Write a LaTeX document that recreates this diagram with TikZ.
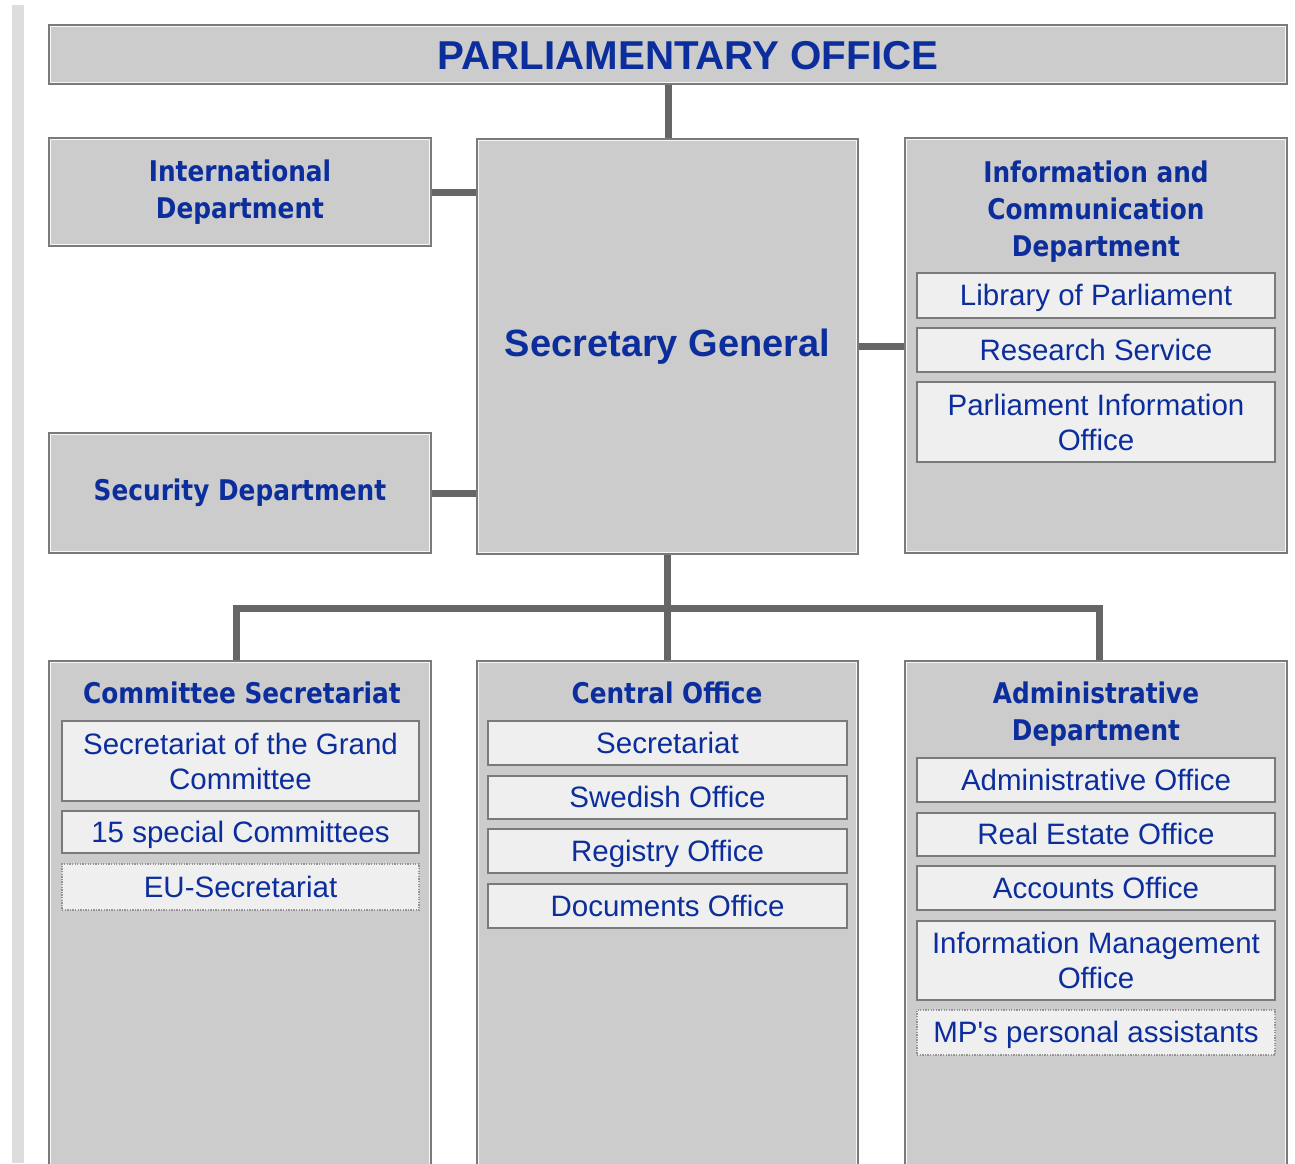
\documentclass[tikz,border=0pt]{standalone}
\usepackage{fontspec}
\setmainfont{Liberation Sans}
\newfontfamily\itemfont{Liberation Sans}
\newfontfamily\hdfont{DejaVu Sans Bold}[FakeStretch=0.87]
\definecolor{boxgray}{HTML}{CCCCCC}
\definecolor{itemfill}{HTML}{EFEFEF}
\definecolor{bordergray}{HTML}{7A7A7A}
\definecolor{linegray}{HTML}{666666}
\definecolor{txtblue}{HTML}{0C2E9C}
\definecolor{barGray}{HTML}{DDDDDD}
\tikzset{
  mainbox/.style={draw=bordergray, line width=1.6pt, fill=boxgray, inner sep=0pt, align=center, text=txtblue},
  itembox/.style={draw=bordergray, line width=1.8pt, fill=itemfill, inner sep=0pt, align=center, text=txtblue,
    font=\itemfont\fontsize{29.5}{35}\selectfont},
  oneline/.style={text height=24pt, text depth=4pt},
  dotbox/.style={draw=bordergray!80, line width=1.3pt, dash pattern=on 1.3pt off 1.3pt, fill=itemfill, inner sep=0pt,
    align=center, text=txtblue, font=\itemfont\fontsize{29.5}{35}\selectfont, text height=24pt, text depth=4pt},
  headtxt/.style={text=txtblue, align=center, inner sep=0pt, font=\hdfont\fontsize{28.5}{37}\selectfont},
  conn/.style={draw=linegray, line width=7pt},
  hl/.style={draw=white!85!boxgray, line width=1.2pt}
}
\begin{document}
\begin{tikzpicture}[x=1pt,y=-1pt]
\useasboundingbox (0,0) rectangle (1295,1163);
\clip (0,0) rectangle (1295,1163);
\fill[barGray] (12,5) rectangle (24,1163);

% top
\node[mainbox, minimum width=1238pt, minimum height=59pt] (title) at (668,54.5) {};
\node[text=txtblue, inner sep=0pt, font=\bfseries\fontsize{40.3}{44}\selectfont] (titletxt) at (688,56) {PARLIAMENTARY OFFICE};

% second row
\node[mainbox, minimum width=382pt, minimum height=108pt,
  font=\hdfont\fontsize{28.5}{37}\selectfont] (intl) at (240,192) {International\\Department};
\node[mainbox, minimum width=381pt, minimum height=415pt,
  font=\bfseries\fontsize{38}{44}\selectfont] (sg) at (667.5,346.5) {Secretary General};
\node[mainbox, minimum width=382pt, minimum height=415pt] (info) at (1096,345.5) {};
\node[mainbox, minimum width=382pt, minimum height=120pt,
  font=\hdfont\fontsize{28.5}{37}\selectfont] (sec) at (240,493) {Security Department};

\node[headtxt] (infohd) at (1096,211.5) {Information and\\Communication\\Department};
\node[itembox, oneline, minimum width=358pt, minimum height=45pt] (lib) at (1096,295.5) {Library of Parliament};
\node[itembox, oneline, minimum width=358pt, minimum height=44pt] (res) at (1096,350) {Research Service};
\node[itembox, minimum width=358pt, minimum height=80pt] (pio) at (1096,422) {Parliament Information\\Office};

% bottom row
\node[mainbox, minimum width=382pt, minimum height=530pt, anchor=north] (com) at (240,660) {};
\node[mainbox, minimum width=381pt, minimum height=530pt, anchor=north] (cen) at (667.5,660) {};
\node[mainbox, minimum width=382pt, minimum height=530pt, anchor=north] (adm) at (1096,660) {};

\node[headtxt] (comhd) at (242,693) {Committee Secretariat};
\node[headtxt] (cenhd) at (667,693) {Central Office};
\node[headtxt] (admhd) at (1096,714) {Administrative\\Department};

\node[itembox, minimum width=357pt, minimum height=80pt] (sgc) at (240.5,761) {Secretariat of the Grand\\Committee};
\node[itembox, oneline, minimum width=357pt, minimum height=42pt] (spc) at (240.5,832) {15 special Committees};
\node[dotbox, minimum width=357pt, minimum height=46pt] (eu) at (240.5,887) {EU-Secretariat};

\node[itembox, oneline, minimum width=359pt, minimum height=44pt] (secr) at (667.5,743) {Secretariat};
\node[itembox, oneline, minimum width=359pt, minimum height=43pt] (swe) at (667.5,797.5) {Swedish Office};
\node[itembox, oneline, minimum width=359pt, minimum height=44pt] (reg) at (667.5,851) {Registry Office};
\node[itembox, oneline, minimum width=359pt, minimum height=44pt] (doc) at (667.5,906) {Documents Office};

\node[itembox, oneline, minimum width=358pt, minimum height=44pt] (ado) at (1096,780) {Administrative Office};
\node[itembox, oneline, minimum width=358pt, minimum height=43pt] (reo) at (1096,834.5) {Real Estate Office};
\node[itembox, oneline, minimum width=358pt, minimum height=44pt] (aco) at (1096,888) {Accounts Office};
\node[itembox, minimum width=358pt, minimum height=79pt] (imo) at (1096,960.5) {Information Management\\Office};
\node[dotbox, minimum width=358pt, minimum height=45pt] (mpa) at (1096,1032.5) {MP's personal assistants};

% inner highlights on main boxes
\foreach \n in {title,intl,sg,info,sec,com,cen,adm}
  \draw[hl] ([shift={(2.6pt,-2.6pt)}]\n.north west) rectangle ([shift={(-2.6pt,2.6pt)}]\n.south east);

% connectors
\draw[conn] (title.south) -- (title.south |- sg.north);
\draw[conn] (intl.east) -- (intl.east -| sg.west);
\draw[conn] (sec.east) -- (sec.east -| sg.west);
\draw[conn] (sg.east) -- (sg.east -| info.west);
\coordinate (busL) at (236,608);
\coordinate (busR) at (1099,608);
\draw[conn] (sg.south) -- (cen.north);
\draw[conn, line join=miter] (busL |- com.north) -- (busL) -- (busR) -- (busR |- adm.north);
\end{tikzpicture}
\end{document}
